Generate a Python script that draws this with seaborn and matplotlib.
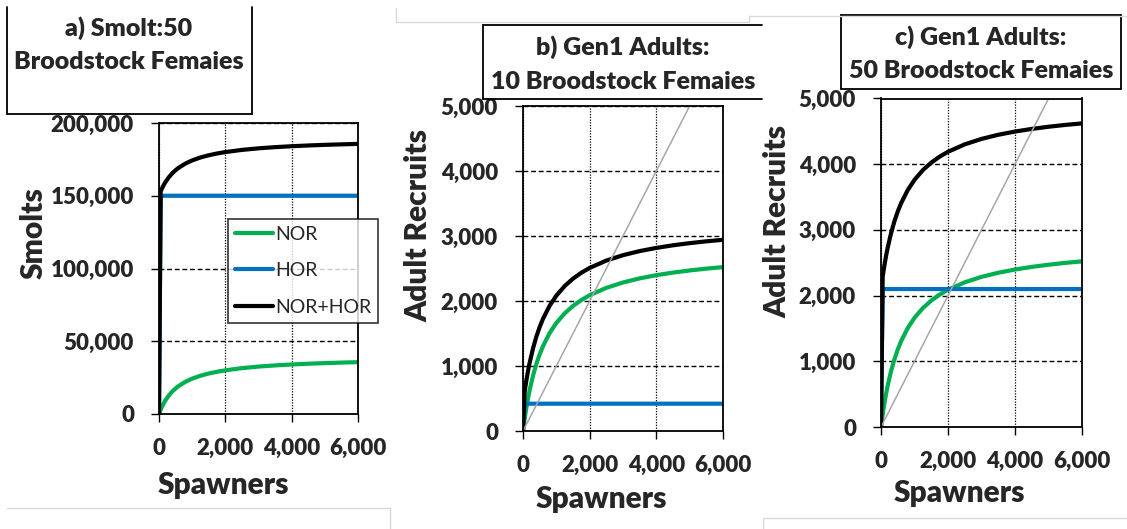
import numpy as np
import pandas as pd
import matplotlib
matplotlib.use("Agg")
import matplotlib.pyplot as plt
from matplotlib.lines import Line2D
from matplotlib.ticker import FuncFormatter, MultipleLocator
import seaborn as sns

# ---- data -------------------------------------------------------------
spawners = [0, 50, 100, 150, 200, 300, 400, 500, 600, 800, 1000, 1250, 1500,
            1750, 2000, 2500, 3000, 3500, 4000, 4500, 5000, 5500, 6000]

# a) smolts produced (50 broodstock females)
smolt_nor = [0, 2940, 5470, 7680, 9610, 12840, 15440, 17580, 19360, 22170,
             24290, 26300, 27830, 29040, 30020, 31510, 32590, 33400, 34040,
             34550, 34980, 35330, 35630]
smolt_hor = [0] + [150000] * 22

# b), c) first-generation adult recruits
adult_nor = [0, 189, 355, 501, 631, 850, 1030, 1180, 1306, 1508, 1662, 1810,
             1924, 2015, 2089, 2202, 2285, 2348, 2397, 2437, 2470, 2498, 2521]
adult_hor_10 = [0] + [420] * 22
adult_hor_50 = [0] + [2100] * 22

# 1:1 replacement line
replace_x = [0, 6000]
replace_y = [0, 6000]

titles = [("a) Smolt:50", "Broodstock Femaies"),
          ("b) Gen1 Adults:", "10 Broodstock Femaies"),
          ("c) Gen1 Adults:", "50 Broodstock Femaies")]
ylabels = ["Smolts", "Adult Recruits", "Adult Recruits"]
xlabel = "Spawners"
xticks = [0, 2000, 4000, 6000]
legend_labels = ["NOR", "HOR", "NOR+HOR"]

GREEN = "#00B050"
BLUE = "#0070C0"
GREY = "#A6A6A6"

# ---- style -------------------------------------------------------------
sns.set_style("white")
plt.rcParams["font.family"] = ["Lato", "DejaVu Sans"]
plt.rcParams["font.weight"] = "heavy"

W, H = 1127, 529
fig = plt.figure(figsize=(W / 100, H / 100), dpi=100)


def fx(px):
    return px / W


def fy(py):
    return 1 - py / H


def add_axes(left, top, right, bottom):
    return fig.add_axes([fx(left), fy(bottom), fx(right - left), (bottom - top) / H])


ax_a = add_axes(159, 123, 358, 414)
ax_b = add_axes(523, 106, 723, 431)
ax_c = add_axes(881, 98.5, 1082, 427)

comma = FuncFormatter(lambda v, p: f"{int(v):,}")

panels = [
    (ax_a, smolt_nor, smolt_hor, 200000, 50000, False),
    (ax_b, adult_nor, adult_hor_10, 5000, 1000, True),
    (ax_c, adult_nor, adult_hor_50, 5000, 1000, True),
]

for ax, nor, hor, ymax, ystep, show_rep in panels:
    df = pd.DataFrame({"Spawners": spawners, "NOR": nor, "HOR": hor})
    df["NOR+HOR"] = df["NOR"] + df["HOR"]
    sns.lineplot(data=df, x="Spawners", y="NOR", ax=ax, color=GREEN,
                 linewidth=3.0, legend=False, zorder=3)
    sns.lineplot(data=df, x="Spawners", y="HOR", ax=ax, color=BLUE,
                 linewidth=3.0, legend=False, zorder=3)
    sns.lineplot(data=df, x="Spawners", y="NOR+HOR", ax=ax, color="black",
                 linewidth=3.0, legend=False, zorder=4)
    if show_rep:
        sns.lineplot(x=replace_x, y=replace_y, ax=ax, color=GREY,
                     linewidth=1.1, legend=False, zorder=5)
    ax.set_xlim(0, 6000)
    ax.set_ylim(0, ymax)
    ax.set_xticks(xticks)
    ax.yaxis.set_major_locator(MultipleLocator(ystep))
    ax.xaxis.set_major_formatter(comma)
    ax.yaxis.set_major_formatter(comma)
    ax.yaxis.grid(True, color="black", linestyle=(0, (3.5, 2)), linewidth=1.0)
    ax.xaxis.grid(True, color="black", linestyle=(0, (1, 1.2)), linewidth=0.9)
    ax.set_axisbelow(True)
    for s in ax.spines.values():
        s.set_visible(True)
        s.set_color("black")
        s.set_linewidth(1.3)
        s.set_zorder(6)
    ax.tick_params(direction="out", length=6, width=1.0, color="black",
                   labelsize=16, left=True, bottom=True)
    ax.tick_params(axis="y", pad=12)
    ax.tick_params(axis="x", pad=11.5)
    ax.set_xlabel("")
    ax.set_ylabel("")

# axis labels
label_kw = dict(fontsize=21.5, fontweight="heavy", ha="center", va="center")
fig.text(fx(34), fy(233), ylabels[0], rotation=90, **label_kw)
fig.text(fx(418), fy(225), ylabels[1], rotation=90, **label_kw)
fig.text(fx(777), fy(221), ylabels[2], rotation=90, **label_kw)
fig.text(fx(223), fy(485), xlabel, **label_kw)
fig.text(fx(601), fy(499), xlabel, **label_kw)
fig.text(fx(959), fy(493), xlabel, **label_kw)

# legend in panel a
handles = [Line2D([], [], color=GREEN, lw=3.0),
           Line2D([], [], color=BLUE, lw=3.0),
           Line2D([], [], color="black", lw=3.0)]
leg = ax_a.legend(handles, legend_labels, loc="upper left",
                  bbox_to_anchor=(fx(228), fy(219)), bbox_transform=fig.transFigure,
                  borderaxespad=0, frameon=True, fancybox=False,
                  prop={"size": 14, "weight": "normal"},
                  handlelength=1.95, handletextpad=0.12, labelspacing=1.0,
                  borderpad=0.35)
leg.get_frame().set_edgecolor("black")
leg.get_frame().set_linewidth(1.2)
leg.set_zorder(10)


def fig_line(x0, y0, x1, y1, color="black", lw=1.3):
    fig.add_artist(Line2D([fx(x0), fx(x1)], [fy(y0), fy(y1)], color=color,
                          linewidth=lw, transform=fig.transFigure))


# title boxes
fig_line(7, 7, 7, 114)
fig_line(7, 114, 252, 114)
fig_line(252, 7, 252, 114)
fig_line(483, 25, 762, 25)
fig_line(483, 25, 483, 99)
fig_line(483, 99, 762, 99)
fig_line(841, 15, 1121, 15)
fig_line(841, 89, 1121, 89)
fig_line(841, 15, 841, 89)
fig_line(1121, 15, 1121, 89)

title_kw = dict(fontsize=18, fontweight="heavy", ha="center", va="center")
title_pos = [(129, 28, 62), (623, 47, 82), (981, 37, 71)]
for (l1, l2), (cx, y1, y2) in zip(titles, title_pos):
    fig.text(fx(cx), fy(y1), l1, **title_kw)
    fig.text(fx(cx), fy(y2), l2, **title_kw)

# faint outlines of the chart areas
LG = "#D9D9D9"
fig_line(7, 508, 390, 508, color=LG, lw=1)
fig_line(390, 508, 390, 529, color=LG, lw=1)
fig_line(396, 8, 396, 21.5, color=LG, lw=1)
fig_line(396, 21.5, 749, 21.5, color=LG, lw=1)
fig_line(749, 21.5, 749, 16, color=LG, lw=1)
fig_line(749, 16, 1127, 16, color=LG, lw=1)
fig_line(763, 518, 763, 529, color=LG, lw=1)
fig_line(763, 518, 1127, 518, color=LG, lw=1)

fig.savefig("out.png", dpi=100, facecolor="white")
